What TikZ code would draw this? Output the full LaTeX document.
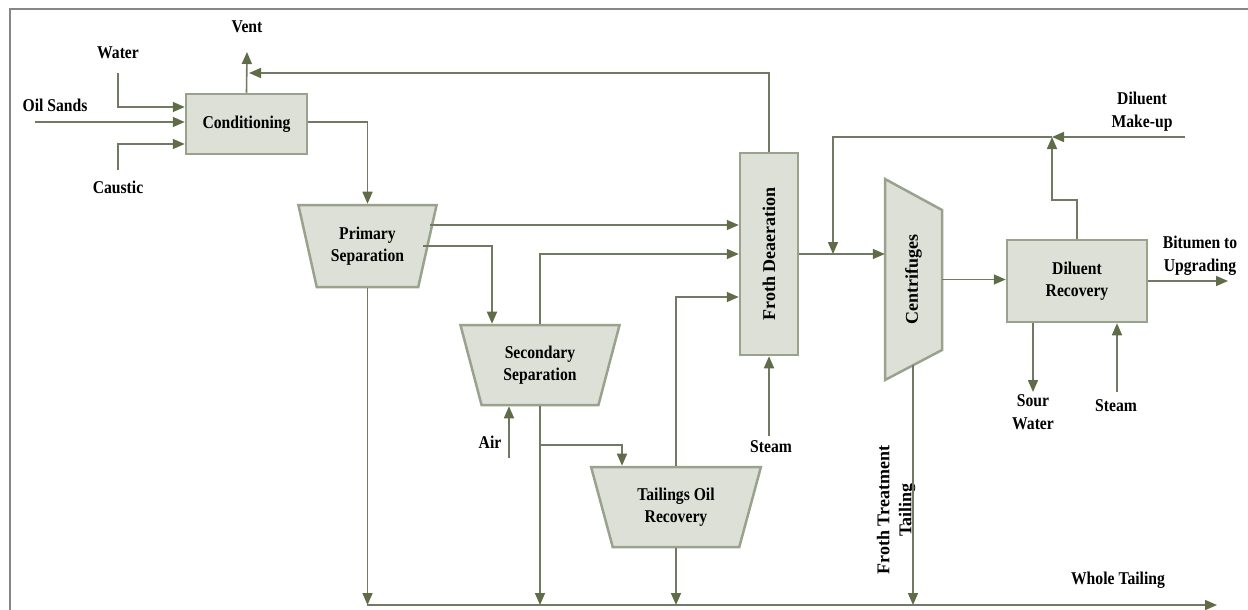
\documentclass[tikz,border=0pt]{standalone}
\usepackage{fontspec}
\newfontfamily\labelfont{Liberation Serif}[FakeStretch=0.87]
\newfontfamily\sidefont{Liberation Serif}
\usepackage{tikz}
\usetikzlibrary{positioning}
\usetikzlibrary{arrows.meta}
\usetikzlibrary{shapes.geometric}
\definecolor{boxfill}{RGB}{221,224,215}
\definecolor{boxline}{RGB}{152,162,140}
\definecolor{pipe}{RGB}{112,121,100}
\definecolor{tipgreen}{RGB}{94,108,72}
\definecolor{frame}{RGB}{135,135,135}
\tikzset{edge/.style = {->,> = {Triangle[length=12pt,width=10pt,color=tipgreen]}, draw=pipe, line width=1.6pt}}

\begin{document}
\begin{tikzpicture}[x=1pt,y=-1pt,
    unit/.style={rectangle,draw=boxline,fill=boxfill,line width=2.5pt,inner sep=0pt,align=center,font=\labelfont\bfseries\fontsize{18}{22}\selectfont},
    tank/.style={trapezium,shape border rotate=180,trapezium stretches=true,trapezium left angle=71,trapezium right angle=71,draw=boxline,fill=boxfill,line width=2.5pt,inner sep=0pt,align=center,font=\labelfont\bfseries\fontsize{18}{22}\selectfont},
    lbl/.style={inner sep=0pt,align=center,font=\labelfont\bfseries\fontsize{18}{23}\selectfont},
    side lbl/.style={inner sep=0pt,align=center,font=\sidefont\bfseries\fontsize{18}{22}\selectfont}]
    \useasboundingbox (0,0) rectangle (1248,610);
    \draw[frame,line width=2pt] (10,610) -- (10,9) -- (1248,9);

    % process units
    \node[unit,minimum width=121pt,minimum height=60pt] (cond) at (246.5,124) {Conditioning};
    \node[tank,minimum width=139pt,minimum height=82pt] (prim) at (367.5,246) {Primary\\Separation};
    \node[tank,minimum width=160pt,minimum height=80pt] (sec) at (540,365) {Secondary\\Separation};
    \node[tank,minimum width=170pt,minimum height=80pt] (tor) at (676,507) {Tailings Oil\\Recovery};
    \node[unit,minimum width=58pt,minimum height=202pt,font=\sidefont\bfseries\fontsize{18}{22}\selectfont] (froth) at (769,254) {\rotatebox{90}{Froth Deaeration}};
    \draw[draw=boxline,fill=boxfill,line width=2.5pt,line join=miter] (885,179) -- (942,210) -- (942,350) -- (885,380) -- cycle;
    \node[side lbl,minimum width=57pt,minimum height=201pt] (cent) at (913.5,279.5) {\rotatebox{90}{Centrifuges}};
    \node[unit,minimum width=140pt,minimum height=82pt] (dr) at (1077,281) {Diluent\\Recovery};

    % stream labels
    \node[lbl] (vent) at (247,27) {Vent};
    \node[lbl] (water) at (118,53) {Water};
    \node[lbl] (oilsands) at (55,105) {Oil Sands};
    \node[lbl] (caustic) at (118,187) {Caustic};
    \node[lbl] (air) at (490,442) {Air};
    \node[lbl] (steam1) at (771,447) {Steam};
    \node[lbl] (makeup) at (1142,112) {Diluent\\Make-up};
    \node[lbl] (bitumen) at (1200,256) {Bitumen to\\Upgrading};
    \node[lbl] (sour) at (1033,412) {Sour\\Water};
    \node[lbl] (steam2) at (1116,406) {Steam};
    \node[side lbl,rotate=90] (ftt) at (896,510) {Froth Treatment\\Tailing};
    \node[lbl] (whole) at (1118,580) {Whole Tailing};

    % free ends
    \coordinate (w0) at (118,73);
    \coordinate (o0) at (35,122);
    \coordinate (c0) at (118,170);
    \coordinate (vent0) at (247,52);
    \coordinate (rc0) at (249,73);
    \coordinate (p1) at (430,225);
    \coordinate (p2) at (423,246);
    \coordinate (b1) at (540,445);
    \coordinate (a0) at (509,458);
    \coordinate (s0) at (769,436);
    \coordinate (m0) at (1185,137);
    \coordinate (j1) at (1052,137);
    \coordinate (j2) at (833,254);
    \coordinate (bt) at (1228,281);
    \coordinate (sw) at (1033,392);
    \coordinate (st2) at (1117,392);
    \coordinate (ft) at (913,365);
    \coordinate (wt0) at (367,605);
    \coordinate (wt1) at (1217,605);

    % streams
    \draw[edge] (w0) |- ([yshift=17pt]cond.west);
    \draw[edge] (o0) -- ([yshift=2pt]cond.west);
    \draw[edge] (c0) |- ([yshift=-20pt]cond.west);
    \draw[edge] (cond.north) -- (vent0);
    \draw[edge] (froth.north) |- (rc0);
    \draw[edge] ([yshift=2pt]cond.east) -| (prim.north);
    \draw[edge] (p1) -- (p1 -| froth.west);
    \draw[edge] (p2) -| ([xshift=-48pt]sec.north);
    \draw[edge] (sec.north) |- (froth.west);
    \draw[edge] (tor.north) |- ([yshift=-43pt]froth.west);
    \draw[edge] (b1) -| ([xshift=-54pt]tor.north);
    \draw[edge] (a0) -- (a0 |- sec.south);
    \draw[edge] (s0) -- (froth.south);
    \draw[edge] (froth.east) -- (froth.east -| cent.west);
    \draw[edge] (m0) -- (j1);
    \draw[edge] (dr.north) -- ++(0,-39) -| (j1);
    \draw[edge] (j1) -| (j2);
    \draw[edge] (cent.east) -- (cent.east -| dr.west);
    \draw[edge] (dr.east) -- (bt);
    \draw[edge] (sw |- dr.south) -- (sw);
    \draw[edge] (st2) -- (st2 |- dr.south);
    \draw[edge] (prim.south) -- (prim.south |- wt0);
    \draw[edge] (sec.south) -- (sec.south |- wt0);
    \draw[edge] (tor.south) -- (tor.south |- wt0);
    \draw[edge] (ft) -- (ft |- wt0);
    \draw[edge] (wt0) -- (wt1);
\end{tikzpicture}
\end{document}
